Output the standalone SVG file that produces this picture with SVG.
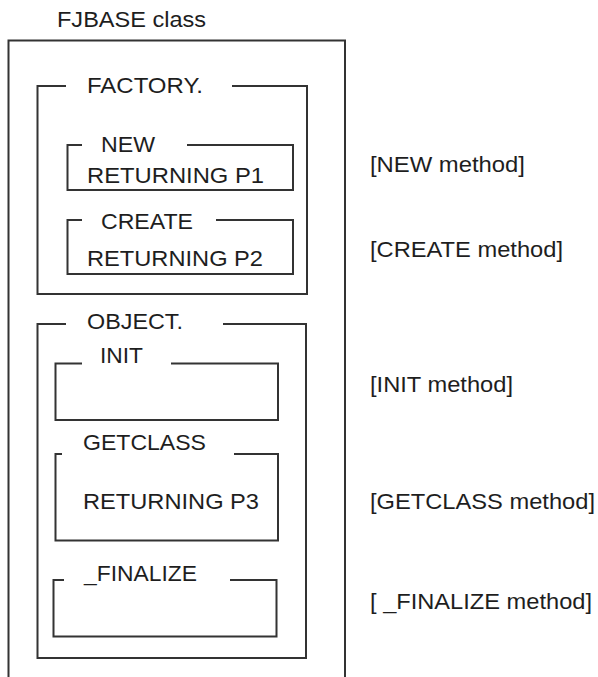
<svg xmlns="http://www.w3.org/2000/svg" width="598" height="677" viewBox="0 0 598 677">
<style>
.b{fill:none;stroke:#333;stroke-width:2}
text{font-family:"Liberation Sans",Arial,sans-serif;font-size:22px;fill:#1e1e1e}
</style>
<rect width="598" height="677" fill="#fff"/>
<g id="fjbase">
<text x="57" y="27" textLength="149" lengthAdjust="spacingAndGlyphs">FJBASE class</text>
<path class="b" d="M8.5,677 V40.5 H345 V677"/>
</g>
<g id="factory">
<path class="b" d="M66,86 H37.5 V294 H307 V86 H232"/>
<text x="87" y="93" textLength="116" lengthAdjust="spacingAndGlyphs">FACTORY.</text>
</g>
<g id="new">
<path class="b" d="M82,145 H67.5 V190 H293 V145 H187"/>
<text x="101" y="152" textLength="54" lengthAdjust="spacingAndGlyphs">NEW</text>
<text x="87" y="182.5" textLength="177" lengthAdjust="spacingAndGlyphs">RETURNING P1</text>
</g>
<g id="create">
<path class="b" d="M82,220 H67.5 V274 H293 V220 H216"/>
<text x="101" y="228.5" textLength="92" lengthAdjust="spacingAndGlyphs">CREATE</text>
<text x="87" y="266" textLength="176" lengthAdjust="spacingAndGlyphs">RETURNING P2</text>
</g>
<g id="object">
<path class="b" d="M66,324 H37.5 V658 H306 V324 H223"/>
<text x="87" y="328.5" textLength="96" lengthAdjust="spacingAndGlyphs">OBJECT.</text>
</g>
<g id="init">
<path class="b" d="M82,363.5 H55.5 V420 H278 V363.5 H171"/>
<text x="100" y="362.5" textLength="43" lengthAdjust="spacingAndGlyphs">INIT</text>
</g>
<g id="getclass">
<path class="b" d="M62,454 H55.5 V540.5 H278 V454 H234"/>
<text x="83" y="450" textLength="123" lengthAdjust="spacingAndGlyphs">GETCLASS</text>
<text x="83" y="508.5" textLength="176" lengthAdjust="spacingAndGlyphs">RETURNING P3</text>
</g>
<g id="finalize">
<path class="b" d="M64,580 H53.5 V636.5 H276.5 V580 H230"/>
<text x="84" y="581" textLength="113" lengthAdjust="spacingAndGlyphs">_FINALIZE</text>
</g>
<g id="labels">
<text x="370" y="172" textLength="155" lengthAdjust="spacingAndGlyphs">[NEW method]</text>
<text x="370" y="257" textLength="193" lengthAdjust="spacingAndGlyphs">[CREATE method]</text>
<text x="370" y="392" textLength="143" lengthAdjust="spacingAndGlyphs">[INIT method]</text>
<text x="370" y="508.5" textLength="225" lengthAdjust="spacingAndGlyphs">[GETCLASS method]</text>
<text x="370" y="608.5" textLength="222" lengthAdjust="spacingAndGlyphs">[ _FINALIZE method]</text>
</g>
</svg>
